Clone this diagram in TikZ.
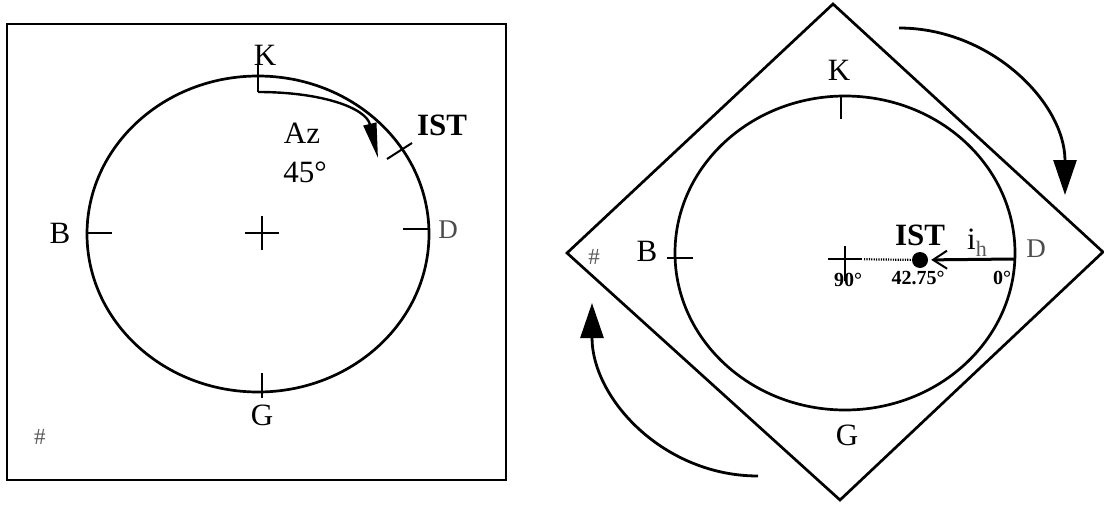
\documentclass[tikz,border=0pt]{standalone}
\usepackage{fontspec}
\setmainfont{Liberation Serif}
\usetikzlibrary{arrows.meta}
\begin{document}
\begin{tikzpicture}[x=1pt,y=-1pt,
  outline/.style={line width=2.7pt},
  tickline/.style={line width=2pt},
  lbl/.style={inner sep=0pt, font=\fontsize{31}{31}\selectfont},
  dlbl/.style={inner sep=0pt, text=black!70, font=\fontsize{27}{27}\selectfont},
  blbl/.style={inner sep=0pt, font=\fontsize{31}{31}\selectfont\bfseries},
  slbl/.style={inner sep=0pt, font=\fontsize{20}{20}\selectfont\bfseries},
  hashlbl/.style={inner sep=0pt, text=black!65, font=\fontsize{23}{23}\selectfont},
  bigarrow/.style={line width=2.8pt, -{Triangle[length=35pt,width=23pt]}},
  azarrow/.style={line width=2.4pt, -{Triangle[length=35pt,width=13pt]}},
  dotline/.style={line width=2.2pt, dash pattern=on 1.2pt off 1.2pt},
]
\useasboundingbox (0,0) rectangle (1104,506);

% ---------- left panel ----------
\draw[outline] (7,24) rectangle (506,480);
\coordinate (LC) at (258,234);
\draw[outline] (LC) ellipse [x radius=171, y radius=158];
% crosshair
\coordinate (LX) at (262,233);
\draw[tickline] ([xshift=-17pt]LX) -- ([xshift=17pt]LX);
\draw[tickline] ([yshift=-17pt]LX) -- ([yshift=17pt]LX);
% ticks
\coordinate (lKt) at (258,65); \coordinate (lKb) at (258,92);
\draw[tickline] (lKt) -- (lKb);
\coordinate (lGt) at (262,373); \coordinate (lGb) at (262,398);
\draw[tickline] (lGt) -- (lGb);
\coordinate (lBl) at (88,233); \coordinate (lBr) at (112,233);
\draw[tickline] (lBl) -- (lBr);
\coordinate (lDl) at (403,229); \coordinate (lDr) at (428,229);
\draw[tickline] (lDl) -- (lDr);
\coordinate (lIa) at (387,159); \coordinate (lIb) at (412,143);
\draw[tickline] (lIa) -- (lIb);
% azimuth arrow
\coordinate (azEnd) at (378,158);
\draw[azarrow] (lKb) .. controls (322,92) and (366,108) .. (azEnd);
% labels
\node[lbl] (lK) at (265,55) {K};
\node[lbl] (lB) at (60,233) {B};
\node[dlbl] (lD) at (448,230) {D};
\node[lbl] (lG) at (262,415) {G};
\node[blbl] (lIST) at (442,125) {IST};
\node[lbl] (lAz) at (302,133) {Az};
\node[lbl] (l45) at (305,172) {45°};
\node[hashlbl] (lHash) at (40,437) {\#};

% ---------- right panel ----------
\coordinate (dT) at (833,4);
\coordinate (dR) at (1103,252);
\coordinate (dB) at (840,500);
\coordinate (dL) at (567,253);
\draw[outline] (dT) -- (dR) -- (dB) -- (dL) -- cycle;
\coordinate (RC) at (845,253);
\draw[outline] (RC) ellipse [x radius=170, y radius=157];
% crosshair
\coordinate (rX) at (845,259);
\draw[tickline] ([xshift=-17pt]rX) -- ([xshift=17pt]rX);
\draw[tickline] ([yshift=-22pt]rX) -- ([yshift=13pt]rX);
% ticks
\coordinate (rKt) at (841,96); \coordinate (rKb) at (841,119);
\draw[tickline] (rKt) -- (rKb);
\coordinate (rBl) at (667,258); \coordinate (rBr) at (693,258);
\draw[tickline] (rBl) -- (rBr);
% IST dot and i_h vector
\node[circle, fill=black, inner sep=0pt, minimum size=16pt] (dot) at (920,260) {};
\coordinate (rD) at (1015,259);
\draw[dotline, shorten <=19pt] (rX) -- (dot);
\draw[line width=3pt, shorten >=3pt, -{Straight Barb[length=14pt,width=18pt,line width=2pt]}] (rD) -- (dot);
% rotation arrows
\coordinate (a1s) at (899,28); \coordinate (a1e) at (1065,195);
\draw[bigarrow] (a1s) .. controls (991,28) and (1065,103) .. (a1e);
\coordinate (a2s) at (758,476); \coordinate (a2e) at (592,303);
\draw[bigarrow] (a2s) .. controls (664,476) and (592,399) .. (a2e);
% labels
\node[lbl] (rK) at (839,70) {K};
\node[lbl] (rB) at (647,251) {B};
\node[dlbl] (rD2) at (1036,249) {D};
\node[lbl] (rG) at (847,435) {G};
\node[blbl] (rIST) at (920,235) {IST};
\node[lbl] (rih) at (977,243) {i\raisebox{-7pt}{\textcolor{black!65}{\fontsize{22}{22}\selectfont h}}};
\node[slbl] (r90) at (848,280) {90°};
\node[slbl] (r4275) at (918,278) {42.75°};
\node[slbl] (r0) at (1002,278) {0°};
\node[hashlbl] (rHash) at (594,257) {\#};
\end{tikzpicture}
\end{document}
